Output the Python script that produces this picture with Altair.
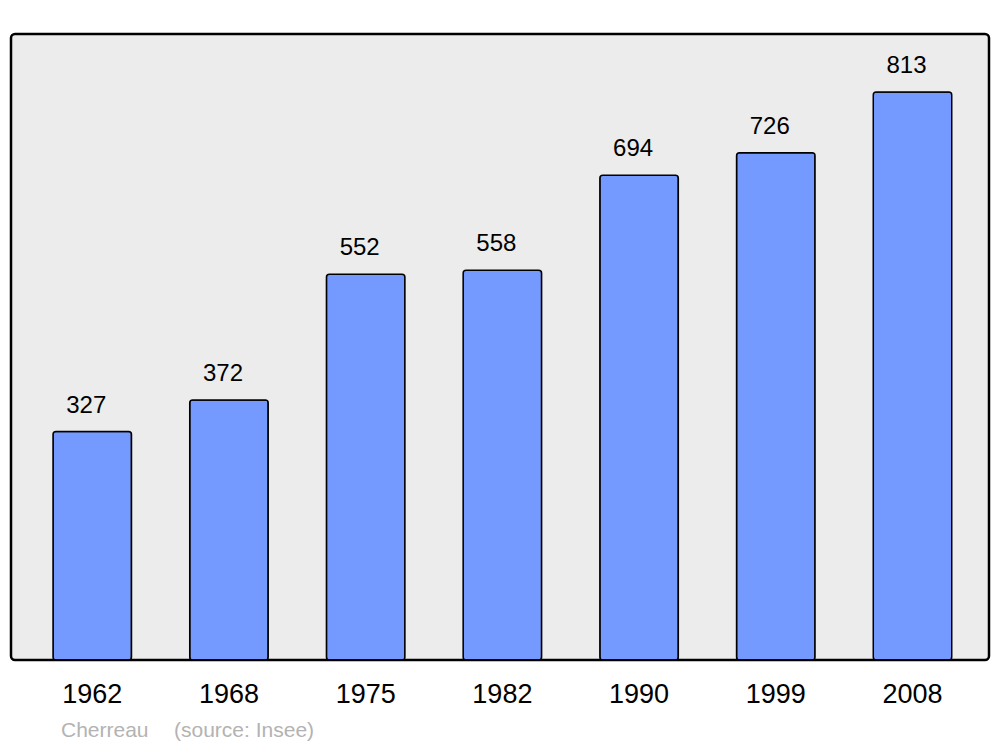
import altair as alt
import pandas as pd

years = ["1962", "1968", "1975", "1982", "1990", "1999", "2008"]
population = [327, 372, 552, 558, 694, 726, 813]
credit_texts = ["Cherreau", "(source: Insee)"]
credit_x = [50, 163]

df = pd.DataFrame({"year": years, "pop": population})
credits = pd.DataFrame({"t": credit_texts, "cx": credit_x})

FONT = "Liberation Sans"

x = alt.X(
    "year:N",
    sort=years,
    scale=alt.Scale(paddingInner=0.426, paddingOuter=0.29, align=0.53),
    axis=alt.Axis(
        title=None, labelAngle=0, ticks=False, domain=False,
        labelFontSize=27, labelFont=FONT, labelColor="black",
        labelPadding=21, labelBaseline="top"
    ),
)
y = alt.Y("pop:Q", scale=alt.Scale(domain=[0, 896], nice=False), axis=None)

bars = alt.Chart(df).mark_bar(
    color="#7499ff", stroke="black", strokeWidth=1.5, cornerRadius=3
).encode(x=x, y=y)

labels = alt.Chart(df).mark_text(
    font=FONT, fontSize=24, color="black", baseline="alphabetic", dy=-19, dx=-6
).encode(x=x, y=y, text="pop:Q")

credit = alt.Chart(credits).mark_text(
    font=FONT, fontSize=21, color="#b3b3b3", align="left", baseline="middle"
).encode(x=alt.X("cx:Q", scale=None), y=alt.value(697), text="t:N")

chart = alt.layer(bars, labels, credit).properties(
    width=978, height=626,
    autosize=alt.AutoSizeParams(type="none"),
    padding={"left": 3, "top": 26, "right": 3, "bottom": 90},
    background="white",
).configure_view(
    fill="#ececec", stroke="black", strokeWidth=2.5, cornerRadius=4
)

chart.save("out.html", embed_options={"renderer": "svg", "actions": False})
